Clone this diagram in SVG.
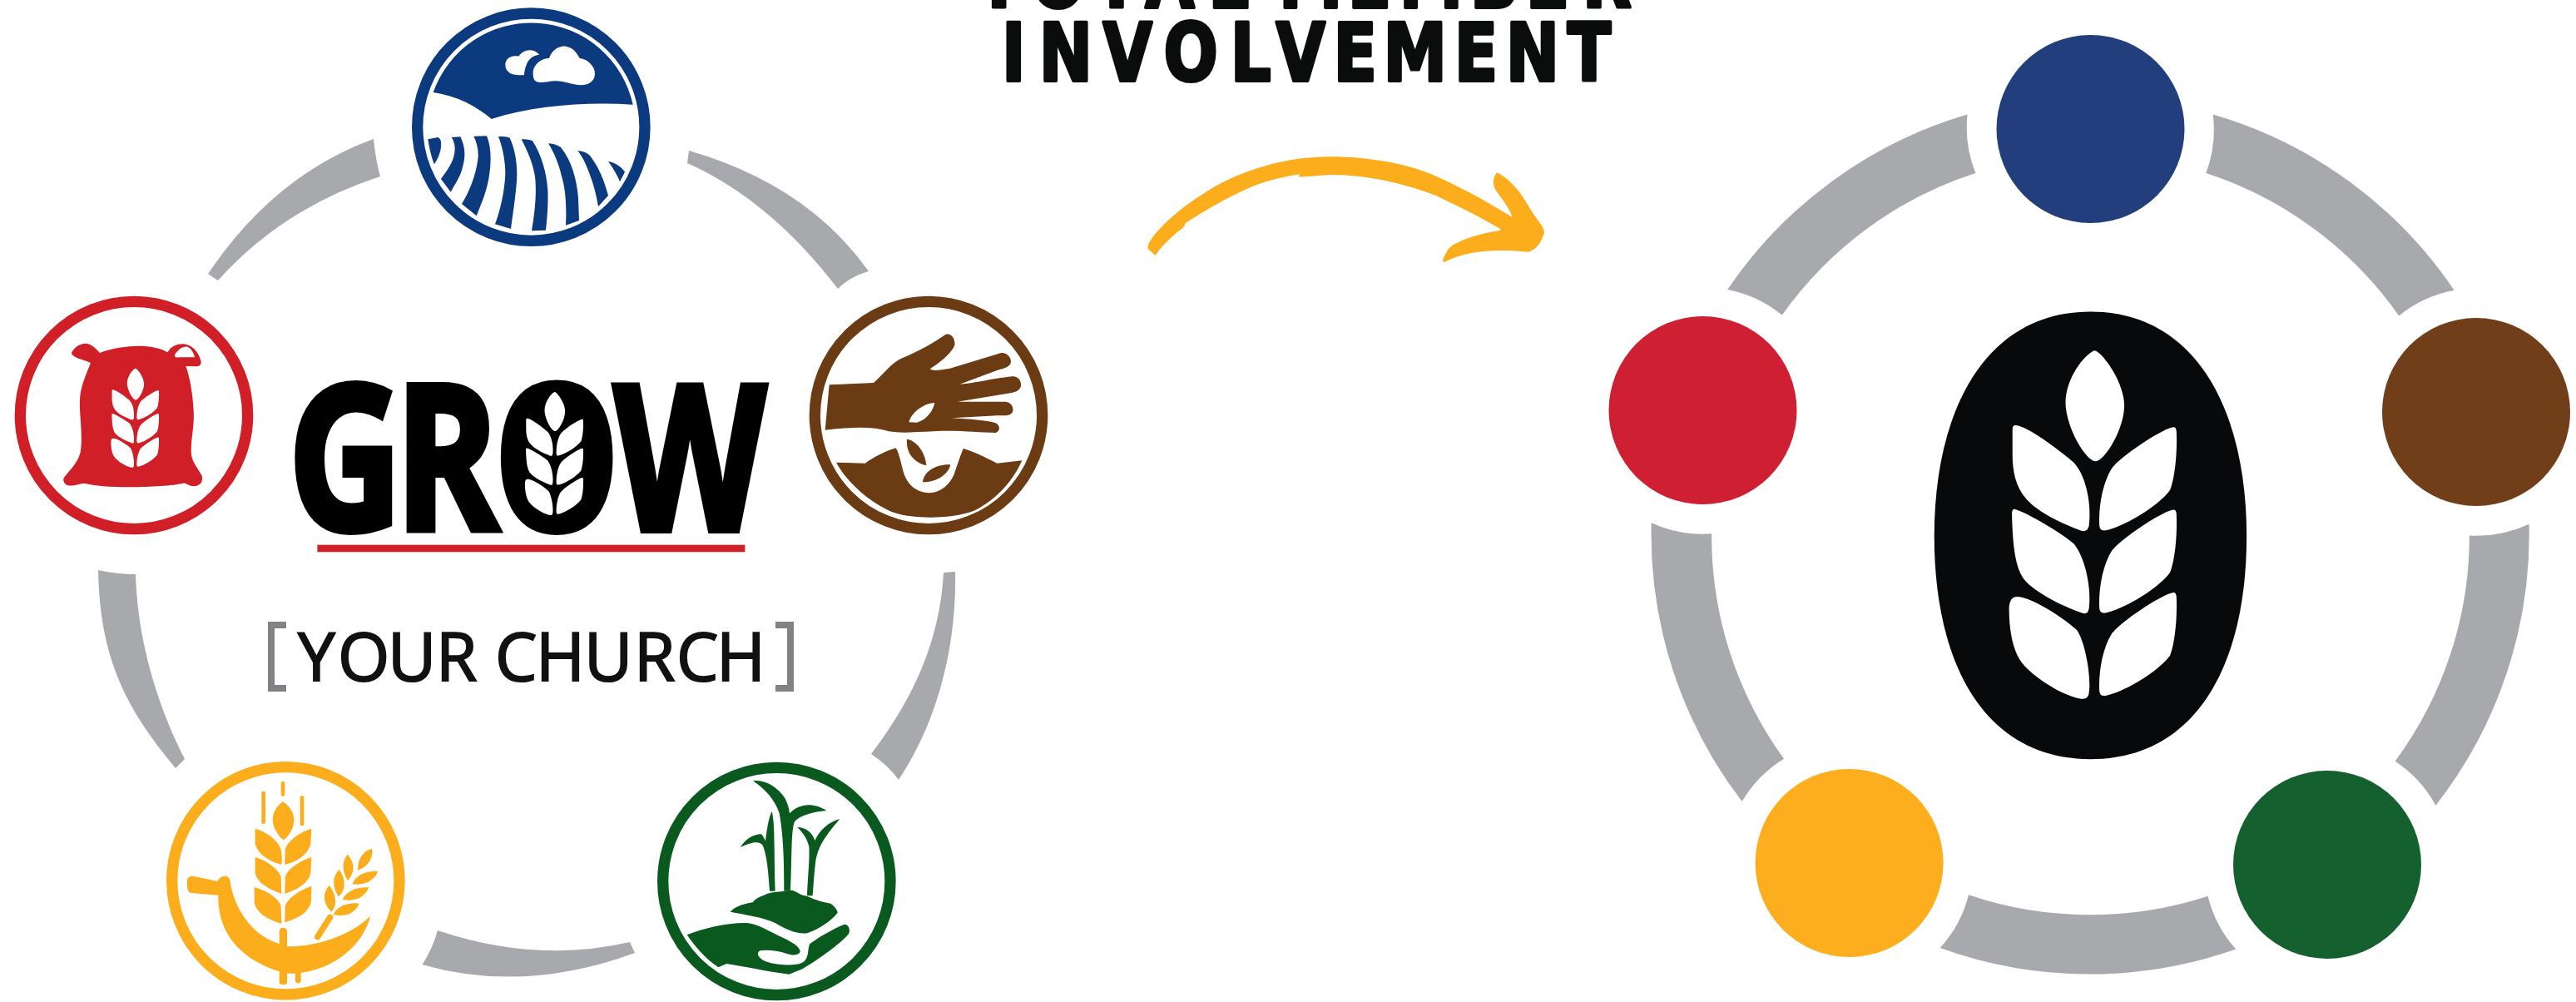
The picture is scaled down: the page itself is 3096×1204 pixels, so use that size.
<svg xmlns="http://www.w3.org/2000/svg" xmlns:xlink="http://www.w3.org/1999/xlink" width="3096" height="1204" viewBox="0 0 3096 1204">
<style>
.gray{fill:#a7a9ac}
.ring{fill:none;stroke-width:40}
.w{fill:#fff}
.slab{font-family:"DejaVu Sans",sans-serif;font-weight:700;font-size:96px;fill:#0b0c0c;stroke:#0b0c0c;stroke-width:4;stroke-linejoin:round;text-anchor:middle}
.grow{font-family:"Open Sans",sans-serif;font-weight:700;font-size:242px;fill:#000;stroke:#000;stroke-width:8;text-anchor:middle}
.church{font-family:"Open Sans",sans-serif;font-size:80px;fill:#111;stroke:#111;stroke-width:2}
.br{fill:none;stroke:#808285;stroke-width:8}
</style>
<defs>
<g id="wheat" class="w">
<path d="M775 212C740 225 675 300 675 375C675 450 745 560 780 560C810 560 880 460 880 385C880 310 800 212 775 212Z"/>
<path d="M500 447C540 447 660 530 705 565C750 610 765 700 757 760C755 775 745 782 730 778C660 755 580 720 540 680C500 640 490 590 490 540L490 460C490 450 495 447 500 447Z"/>
<path id="wr" d="M1052 453C1020 455 880 535 838 580C805 625 790 700 793 760C795 775 800 778 815 777C880 765 1000 700 1040 650C1060 600 1065 520 1062 465C1060 455 1057 453 1052 453Z"/>
<path d="M497 710C540 720 670 790 705 820C745 865 765 960 757 1020C755 1035 748 1040 735 1037C680 1020 570 975 530 930C495 890 490 800 488 725C488 713 492 710 497 710Z"/>
<use xlink:href="#wr" href="#wr" y="259"/>
<path d="M505 985C560 985 680 1060 715 1090C745 1130 765 1240 757 1285C755 1303 745 1308 725 1305C660 1295 560 1235 525 1195C490 1155 478 1090 478 1020C480 995 490 985 505 985Z"/>
<use xlink:href="#wr" href="#wr" y="519"/>
</g>
</defs>
<rect width="3096" height="1204" fill="#fff"/>

<g id="connectors">
<path class="gray" d="M449 167Q330 210 250 329L262 337Q340 250 457 212Q451 190 449 167Z"/>
<path class="gray" d="M828 181Q970 222 1044 326Q1022 332 1007 347Q925 240 826 196Z"/>
<path class="gray" d="M1148 687C1150 780 1125 870 1080 937Q1068 920 1047 906C1105 830 1130 760 1134 688Z"/>
<path class="gray" d="M526 1118Q645 1158 757 1132L763 1145Q630 1194 507.5 1159Q520 1140 526 1118Z"/>
<path class="gray" d="M118 685Q140 690 163 690C165 770 190 850 222 912L211 923C150 850 120 790 118 685Z"/>
<path class="gray" d="M2076.2 348A528 528 0 0 1 2364.5 137.5A148 148 0 0 0 2374.4 208A456 456 0 0 0 2141.8 378.6A148 148 0 0 0 2076.2 348Z"/>
<path class="gray" d="M2659.7 137.5A528 528 0 0 1 2949.6 348.7A148 148 0 0 0 2883.2 379.4A456 456 0 0 0 2651.3 208A148 148 0 0 0 2659.7 137.5Z"/>
<path class="gray" d="M3039.6 629.8A528 528 0 0 1 2927.4 967.7A148 148 0 0 0 2878.6 914.7A456 456 0 0 0 2967.9 643.6A148 148 0 0 0 3039.6 629.8Z"/>
<path class="gray" d="M2687.2 1140.6A528 528 0 0 1 2331.7 1139A148 148 0 0 0 2366 1075.3A456 456 0 0 0 2653.6 1076.8A148 148 0 0 0 2687.2 1140.6Z"/>
<path class="gray" d="M2093.7 963A528 528 0 0 1 1984.7 628.3A148 148 0 0 0 2057.1 641.3A456 456 0 0 0 2144 911.7A148 148 0 0 0 2093.7 963Z"/>
<path id="arrow" transform="translate(1100 0) scale(.574 .3333)" fill="#fbad1c" d="M503 920C497 915 495 905 490 903C485 890 487 880 495 860C520 800 570 730 630 670C700 605 780 565 870 565C950 565 1030 590 1090 635C1150 680 1210 740 1250 783C1245 750 1225 710 1215 685C1208 660 1210 640 1218 622C1250 650 1270 700 1290 760C1305 800 1318 820 1317 840C1310 870 1305 895 1285 908C1260 905 1225 900 1195 905C1160 910 1130 925 1108 945C1100 940 1110 920 1115 900C1125 875 1170 845 1225 830L1225 825C1190 790 1140 745 1090 705C1030 665 950 630 870 630L803 638L805 628C760 640 720 660 695 680C650 715 610 755 565 805C565 815 560 825 550 835C530 865 515 890 503 920Z"/>
</g>

<g id="node-field" transform="translate(490 5) scale(.33333)" fill="#0b3a7e">
<circle class="ring" stroke="#0b3a7e" cx="445" cy="443" r="410"/>
<path d="M92 318A375 375 0 0 1 812 362C640 352 460 365 302 414C250 370 180 330 92 318Z"/>
<path class="w" d="M452 250C450 220 480 195 510 195C520 165 545 150 570 152C595 155 610 175 620 195C650 198 675 225 675 250C675 280 650 292 625 292C590 290 560 275 530 277C510 278 480 285 465 280C455 275 452 265 452 250Z"/>
<path class="w" d="M352 218C352 195 375 182 400 188C415 165 450 155 475 182C445 185 425 205 420 255C400 257 375 255 365 245C355 238 352 228 352 218Z"/>
<path d="M73 487L108 480C120 482 122 500 120 515C118 535 108 560 95 577C85 550 78 520 73 487Z"/>
<path d="M158 480L190 478C205 510 210 540 200 580C192 620 170 650 155 677L120 630C150 590 170 560 170 520C170 505 165 490 158 480Z"/>
<path d="M238 476L285 475C300 510 302 560 295 610C288 670 265 720 248 763L195 720C220 680 245 620 253 560C257 530 250 500 238 476Z"/>
<path d="M327 477C345 477 360 478 368 482C390 530 398 590 392 650C387 710 378 760 372 810L315 793C335 740 350 670 352 610C352 560 340 510 327 477Z"/>
<path d="M410 487C425 487 440 488 450 493C480 540 500 600 505 670C507 720 503 770 498 815L447 817C458 750 465 690 460 630C455 580 430 525 410 487Z"/>
<path d="M507 502C525 503 545 508 555 520C590 565 610 630 615 700L618 780L570 797C573 730 570 670 555 620C545 575 525 530 507 502Z"/>
<path d="M613 528C630 530 650 535 660 550C690 590 710 640 723 690L687 730C678 670 660 620 645 585C635 560 625 545 613 528Z"/>
<path d="M723 567C745 570 770 585 783 605L765 640C755 615 740 590 723 567Z"/>
</g>

<g id="node-sack" transform="translate(10 350) scale(.33333)" fill="#d01f27">
<circle class="ring" stroke="#d01f27" cx="453" cy="447" r="410"/>
<path d="M228 222C235 205 255 188 280 188C300 190 315 205 330 222C370 205 430 197 470 197C510 197 550 205 575 220C585 200 605 190 630 190C665 192 690 225 695 255C695 265 690 270 680 271L640 270C655 310 665 370 668 430C672 490 655 540 660 590C665 620 685 640 698 665C702 685 695 700 670 703C650 703 640 690 630 692C560 708 340 712 275 692C250 695 235 703 215 700C200 695 195 680 202 670C225 640 250 620 260 580C270 520 255 440 258 390C260 340 285 290 297 258C270 245 230 240 228 222Z"/>
<path class="w" d="M600 230C610 210 630 198 645 200C660 205 670 225 672 238L618 238C605 240 600 237 600 230Z"/>
<use xlink:href="#wheat" href="#wheat" transform="translate(228.6 208.8) scale(.296 .3266)"/>
</g>

<g id="node-hand" transform="translate(965 350) scale(.33333)" fill="#6b3b13">
<circle class="ring" stroke="#6b3b13" cx="453" cy="447" r="410"/>
<path d="M95 337L255 330C290 300 320 255 360 240C420 215 480 180 515 155C535 150 550 170 547 195C535 225 490 260 458 280C470 290 500 282 530 278L715 222C740 220 755 245 748 262C740 275 720 280 700 285L565 335C600 335 680 315 755 307C780 305 790 330 785 345C775 365 755 365 730 370L557 398L730 398C755 400 762 425 755 437C745 450 725 448 700 448L537 457C600 460 660 465 695 475C712 483 712 505 695 510C630 510 560 500 470 505C400 508 350 512 310 505C250 485 170 490 80 500Z"/>
<path class="w" d="M382 472C390 440 430 405 475 402C470 430 445 465 410 473Z"/>
<path d="M120 617L225 620C250 600 300 575 335 565C350 590 355 630 365 660C380 700 410 725 455 727C500 725 530 695 545 660C555 630 565 600 578 567C610 575 660 600 700 620L790 610C760 680 700 750 620 790C550 820 400 825 320 795C240 760 160 690 120 617Z"/>
<path d="M375 533C400 535 440 570 445 628C410 620 370 590 375 533Z"/>
<path d="M432 688C435 650 480 622 532 625C525 660 480 690 432 688Z"/>
</g>

<g id="node-sickle" transform="translate(195 904) scale(.33333)" fill="#fbad1c">
<circle class="ring" stroke="#fbad1c" cx="445" cy="463" r="410"/>
<rect x="428" y="105" width="14" height="53" rx="6"/>
<rect x="358" y="140" width="14" height="118" rx="6"/>
<rect x="497" y="157" width="14" height="108" rx="6"/>
<path d="M435 178C410 195 398 220 398 245C400 275 425 310 437 315C450 310 475 275 475 245C475 215 455 190 435 178Z"/>
<path d="M335 275C375 285 420 320 428 350C432 370 432 390 430 405C390 395 345 370 335 330Z"/>
<path d="M538 275C500 285 450 320 443 350L442 405C485 395 525 370 535 330Z"/>
<path d="M335 378C375 390 420 420 428 450L430 510C390 495 345 475 335 435Z"/>
<path d="M538 378C500 390 450 420 443 450L442 510C485 495 525 475 535 435Z"/>
<path d="M332 487C370 495 420 525 428 555L430 618C390 605 340 585 332 540Z"/>
<path d="M538 482C500 495 450 525 443 555L442 613C485 600 530 580 537 535Z"/>
<path d="M422 645C422 628 450 628 450 645L450 700L422 700Z"/>
<path d="M90 465C90 450 100 445 115 447L200 465C205 445 240 435 245 465C252 520 280 590 340 645C370 670 395 680 420 690L450 700C560 700 680 660 750 590C735 660 660 770 500 795L500 825C500 835 480 835 480 825L480 797L450 797L450 830C450 840 422 840 422 830L422 790C240 730 200 610 202 515L105 507C92 505 88 490 90 465Z"/>
<path d="M605 595L560 665" fill="none" stroke="#fbad1c" stroke-width="22" stroke-linecap="round"/>
<path d="M757 347C725 355 705 380 705 425C735 415 760 390 757 347Z"/>
<path d="M668 368C650 390 645 420 668 462C690 440 700 405 668 368Z"/>
<path d="M778 430C740 425 700 440 685 475C720 480 760 470 778 430Z"/>
<path d="M638 423C615 445 610 480 635 520C660 500 665 460 638 423Z"/>
<path d="M745 487C700 485 665 500 650 530C690 540 730 525 745 487Z"/>
<path d="M602 480C580 505 575 540 610 575C630 555 630 515 602 480Z"/>
<path d="M710 545C670 540 630 555 617 585C660 595 695 580 710 545Z"/>
</g>

<g id="node-sprout" transform="translate(785 904) scale(.33333)" fill="#0a5a20">
<circle class="ring" stroke="#0a5a20" cx="445" cy="465" r="410"/>
<path d="M360 103C400 95 450 125 475 165C485 185 490 200 492 220C520 190 570 175 625 210C580 215 530 225 510 250C497 280 500 380 495 500L472 500C472 400 470 300 455 220C440 170 400 130 360 103Z"/>
<path d="M428 212C440 260 435 340 440 500L420 500C415 430 410 370 395 335C385 320 360 320 315 342C330 315 360 295 390 295C395 300 400 310 405 320C410 280 415 240 428 212Z"/>
<path d="M520 270C550 270 575 290 583 318C600 280 635 250 673 240C630 290 590 340 585 400C580 440 578 480 575 517L555 517C557 450 565 390 562 340C555 310 540 290 520 270Z"/>
<path d="M278 575C300 550 340 545 360 540C370 525 390 520 410 510C440 500 470 503 500 497C515 500 530 515 550 517C570 525 600 540 640 545C655 555 665 570 665 578C640 610 600 635 560 650C530 660 480 640 440 615C400 595 330 585 278 575Z"/>
<path d="M122 658C180 635 260 615 330 615C370 615 400 635 440 655C480 675 520 690 530 715C530 730 510 735 480 725C450 715 410 710 385 715C370 725 380 745 410 755C450 768 510 770 535 760C565 745 555 710 565 690C600 665 650 635 690 620C705 620 712 640 705 655C670 695 590 750 540 780L490 800C410 790 320 770 265 762L235 775C190 745 150 700 122 658Z"/>
</g>

<g id="logo">
<text class="grow" transform="scale(.78 1)" y="636.6" x="532 688.5 857.7 1063">GROW</text>
<ellipse cx="666" cy="549" rx="48" ry="86" fill="#000"/>
<use xlink:href="#wheat" href="#wheat" transform="translate(573.5 442.3) scale(.12 .1354)"/>
<rect x="381.4" y="654.7" width="514" height="8.6" fill="#d01f27"/>
</g>

<g id="church">
<path class="br" d="M344 751H326V827H344"/>
<path class="br" d="M932 751H950V827H932"/>
<text class="church" y="817.8" x="358 406 466 524 571 595 644 702 762 813 861">YOUR CHURCH</text>
</g>

<g id="title" transform="scale(.8 1)">
<text class="slab" y="8.5" x="1501 1590 1677.5 1757.5 1846 1900 1969 2057.5 2150 2245 2325 2414">TOTAL MEMBER</text>
<text class="slab" y="97" x="1523 1601 1694 1789 1879 1954 2036 2126 2217.5 2302.5 2387.5">INVOLVEMENT</text>
</g>

<g id="node-blue"><circle cx="2512.5" cy="155" r="113" fill="#223e7c"/></g>
<g id="node-red"><circle cx="2046.5" cy="493" r="113" fill="#cf2033"/></g>
<g id="node-brown"><circle cx="2976" cy="495" r="113" fill="#713e1a"/></g>
<g id="node-yellow"><circle cx="2222.6" cy="1037" r="113" fill="#fdae1e"/></g>
<g id="node-green"><circle cx="2797" cy="1039" r="113" fill="#15602f"/></g>
<g id="node-center" transform="translate(2250 340) scale(.3444 .3827)">
<path fill="#07090b" d="M762 90C1130 90 1307 400 1307 795C1307 1200 1130 1495 762 1495C395 1495 217 1200 217 795C217 400 395 90 762 90Z"/>
<use xlink:href="#wheat" href="#wheat"/>
</g>
</svg>
